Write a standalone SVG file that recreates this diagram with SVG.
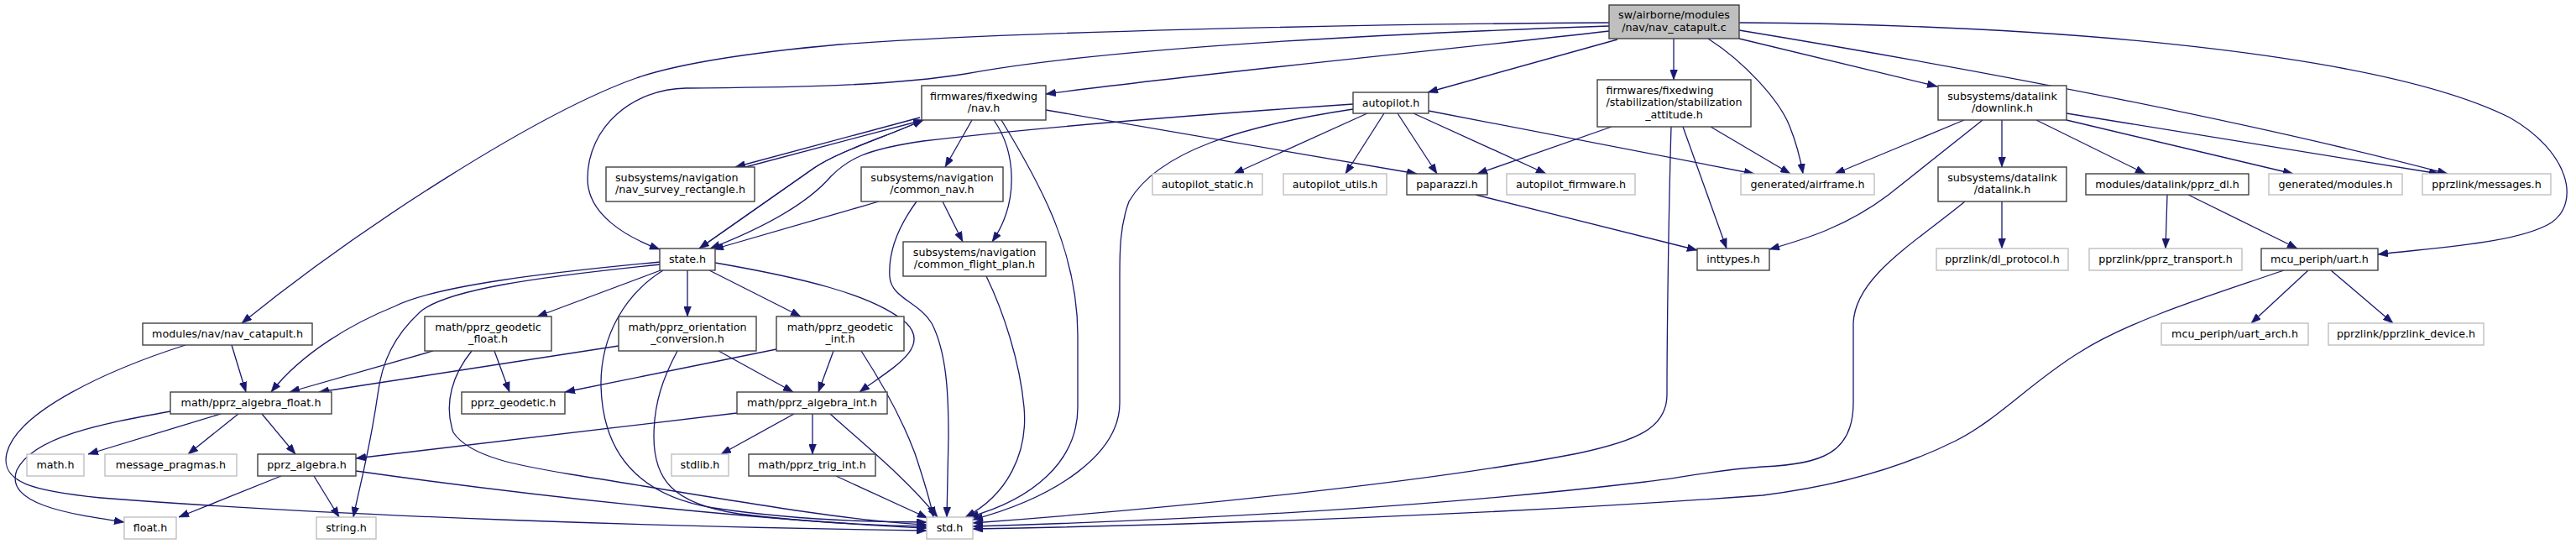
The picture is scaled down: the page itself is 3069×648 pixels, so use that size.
<svg xmlns="http://www.w3.org/2000/svg" width="3069" height="648" viewBox="0 0 3069 648">
<style>
.bg{fill:#ffffff}
.n rect{fill:#ffffff;stroke:#404040;stroke-width:1.4}
.u rect{fill:#ffffff;stroke:#bfbfbf;stroke-width:1.4}
.r rect{fill:#bfbfbf;stroke:#404040;stroke-width:1.4}
text{font-family:"DejaVu Sans","Liberation Sans",sans-serif;font-size:12.7px;fill:#000000;text-anchor:middle}
text.l{text-anchor:start}
#edges path{fill:none;stroke:#191970;stroke-width:1.3;marker-end:url(#ah)}
</style>
<defs>
<marker id="ah" markerUnits="userSpaceOnUse" markerWidth="12" markerHeight="9" refX="12" refY="4.5" orient="auto" viewBox="0 0 12 9">
<path d="M0,0 L12,4.5 L0,9 z" fill="#191970" stroke="#191970" stroke-width="0.5"/>
</marker>
</defs>
<rect class="bg" x="0" y="0" width="3069" height="648"/>
<g id="edges">
<path d="M1917,27 C1600,29 1200,38 1000,53 C900,62 810,75 758,93 C640,135 430,270 288,385"/>
<path d="M1917,31 C1600,42 1300,60 1150,88 C1050,104 920,104 817,105 C755,106 700,150 700,213 C700,255 745,282 786,297"/>
<path d="M1917,37 C1700,62 1450,85 1246,112"/>
<path d="M1927,47 L1701,110"/>
<path d="M1994,46 L1994,95"/>
<path d="M2035,46 C2080,75 2120,120 2132,150 C2142,175 2146,195 2148,207"/>
<path d="M2072,46 L2308,103"/>
<path d="M2072,36 C2400,90 2700,150 2916,207"/>
<path d="M2072,27 C2500,30 2850,70 2990,140 C3060,180 3075,240 3040,265 C3000,290 2900,295 2833,303"/>
<path d="M1096,140 L876,199"/>
<path d="M888,199 L1100,143"/>
<path d="M1100,143 C1050,165 1000,180 970,200 C920,235 870,270 833,296"/>
<path d="M833,296 C870,270 920,235 970,200 C1000,180 1050,165 1100,143"/>
<path d="M1612,124 C1450,135 1250,150 1100,168 C1030,178 1010,190 990,210 C960,245 900,275 846,296"/>
<path d="M1047,240 L850,297"/>
<path d="M1158,143 L1126,199"/>
<path d="M1184,143 C1210,180 1215,240 1182,288"/>
<path d="M1193,143 C1240,220 1284,300 1284,400 L1284,485 C1284,550 1230,595 1154,616"/>
<path d="M1123,240 L1147,288"/>
<path d="M1092,240 C1070,270 1058,300 1060,330 C1062,355 1095,360 1110,385 C1128,420 1130,470 1130,520 L1128,616"/>
<path d="M1175,329 C1195,370 1215,430 1220,485 C1225,540 1200,590 1150,616"/>
<path d="M1612,130 C1480,150 1380,180 1345,240 C1334,270 1334,300 1334,330 L1334,480 C1334,540 1260,592 1159,619"/>
<path d="M1629,135 L1470,207"/>
<path d="M1649,135 L1603,207"/>
<path d="M1665,135 L1712,207"/>
<path d="M1684,135 L1842,207"/>
<path d="M1702,132 L2090,207"/>
<path d="M1246,131 L1688,207"/>
<path d="M1920,151 L1760,207"/>
<path d="M2005,151 L2057,296"/>
<path d="M2038,151 L2133,207"/>
<path d="M1991,151 C1988,250 1986,400 1986,470 C1986,510 1950,525 1880,540 C1700,575 1400,605 1159,623"/>
<path d="M1758,232 L2022,298"/>
<path d="M2340,143 L2186,207"/>
<path d="M2362,143 L2250,232 C2200,270 2150,285 2108,297"/>
<path d="M2385,143 L2385,199"/>
<path d="M2426,143 L2556,207"/>
<path d="M2462,143 L2732,207"/>
<path d="M2462,135 L2906,207"/>
<path d="M2385,240 L2385,296"/>
<path d="M2341,240 C2280,290 2210,330 2208,385 L2208,480 C2208,540 2170,553 2100,556 C2040,560 2000,570 1960,574 C1700,605 1400,620 1159,627"/>
<path d="M2582,232 L2580,296"/>
<path d="M2607,232 L2737,296"/>
<path d="M2750,322 L2682,385"/>
<path d="M2777,322 L2851,385"/>
<path d="M2721,322 C2640,350 2540,380 2477,420 C2420,455 2380,500 2330,525 C2260,560 2180,580 2100,590 C1800,612 1450,625 1159,630"/>
<path d="M787,312 C650,325 520,340 470,365 C420,385 360,420 323,467"/>
<path d="M787,315 C640,330 530,345 500,372 C470,400 455,430 450,470 C440,540 428,580 421,616"/>
<path d="M787,322 L640,377"/>
<path d="M819,322 L819,377"/>
<path d="M845,322 L954,377"/>
<path d="M790,322 C745,350 715,400 716,460 C718,540 760,590 850,605 C950,620 1050,622 1104,622"/>
<path d="M852,313 C950,330 1040,350 1080,385 C1110,415 1060,440 1024,467"/>
<path d="M276,411 L293,467"/>
<path d="M221,411 C130,440 20,490 8,540 C0,575 40,585 120,593 C400,615 800,628 1104,632"/>
<path d="M516,418 L345,467"/>
<path d="M589,418 L607,467"/>
<path d="M562,418 C540,445 528,480 540,515 C560,545 620,555 680,565 C850,592 1000,620 1104,625"/>
<path d="M737,412 L380,467"/>
<path d="M856,418 L945,467"/>
<path d="M807,418 C790,450 779,480 779,520 C779,570 800,600 880,612 C960,622 1050,626 1104,627"/>
<path d="M925,416 L673,467"/>
<path d="M993,418 L975,467"/>
<path d="M1026,418 C1050,455 1075,500 1090,540 C1100,570 1108,595 1112,616"/>
<path d="M263,493 L105,541"/>
<path d="M284,493 L224,541"/>
<path d="M312,493 L352,541"/>
<path d="M203,490 C120,505 40,520 20,560 C5,600 80,612 148,622"/>
<path d="M878,492 L424,546"/>
<path d="M946,493 L859,541"/>
<path d="M968,493 L968,541"/>
<path d="M989,493 C1030,530 1080,570 1117,616"/>
<path d="M335,567 L213,616"/>
<path d="M374,567 L404,616"/>
<path d="M424,561 C700,600 950,622 1104,629"/>
<path d="M996,567 L1105,617"/>
</g>
<g id="node-root" class="r"><rect x="1917" y="6" width="155" height="40"/><text x="1994.5" y="22">sw/airborne/modules</text><text x="1994.5" y="36.5">/nav/nav_catapult.c</text></g>
<g id="node-nav" class="n"><rect x="1098" y="102" width="148" height="41"/><text x="1172" y="118.5">firmwares/fixedwing</text><text x="1172" y="133">/nav.h</text></g>
<g id="node-autopilot" class="n"><rect x="1612" y="110" width="90" height="25"/><text x="1657" y="127">autopilot.h</text></g>
<g id="node-stab" class="n"><rect x="1903" y="95" width="183" height="56"/><text class="l" x="1913.5" y="111.5">firmwares/fixedwing</text><text x="1994.5" y="126">/stabilization/stabilization</text><text x="1994.5" y="140.5">_attitude.h</text></g>
<g id="node-downlink" class="n"><rect x="2309" y="102" width="153" height="41"/><text x="2385.5" y="118.5">subsystems/datalink</text><text x="2385.5" y="133">/downlink.h</text></g>
<g id="node-navsurvey" class="n"><rect x="722" y="199" width="177" height="41"/><text class="l" x="733" y="215.5">subsystems/navigation</text><text x="810.5" y="230">/nav_survey_rectangle.h</text></g>
<g id="node-commonnav" class="n"><rect x="1026" y="199" width="169" height="41"/><text x="1110.5" y="215.5">subsystems/navigation</text><text x="1110.5" y="230">/common_nav.h</text></g>
<g id="node-datalink" class="n"><rect x="2309" y="199" width="153" height="41"/><text x="2385.5" y="215.5">subsystems/datalink</text><text x="2385.5" y="230">/datalink.h</text></g>
<g id="node-flightplan" class="n"><rect x="1076" y="288" width="170" height="41"/><text x="1161" y="304.5">subsystems/navigation</text><text x="1161" y="319">/common_flight_plan.h</text></g>
<g id="node-apstatic" class="u"><rect x="1373" y="207" width="131" height="25"/><text x="1438.5" y="224">autopilot_static.h</text></g>
<g id="node-aputils" class="u"><rect x="1529" y="207" width="123" height="25"/><text x="1590.5" y="224">autopilot_utils.h</text></g>
<g id="node-paparazzi" class="n"><rect x="1676" y="207" width="96" height="25"/><text x="1724" y="224">paparazzi.h</text></g>
<g id="node-apfirmware" class="u"><rect x="1795" y="207" width="153" height="25"/><text x="1871.5" y="224">autopilot_firmware.h</text></g>
<g id="node-airframe" class="u"><rect x="2074" y="207" width="159" height="25"/><text x="2153.5" y="224">generated/airframe.h</text></g>
<g id="node-pprzdl" class="n"><rect x="2485" y="207" width="194" height="25"/><text x="2582" y="224">modules/datalink/pprz_dl.h</text></g>
<g id="node-modules" class="u"><rect x="2703" y="207" width="159" height="25"/><text x="2782.5" y="224">generated/modules.h</text></g>
<g id="node-messages" class="u"><rect x="2886" y="207" width="153" height="25"/><text x="2962.5" y="224">pprzlink/messages.h</text></g>
<g id="node-state" class="n"><rect x="786" y="296" width="66" height="26"/><text x="819" y="313">state.h</text></g>
<g id="node-inttypes" class="n"><rect x="2022" y="296" width="86" height="26"/><text x="2065" y="313">inttypes.h</text></g>
<g id="node-dlprotocol" class="u"><rect x="2307" y="296" width="157" height="26"/><text x="2385.5" y="313">pprzlink/dl_protocol.h</text></g>
<g id="node-transport" class="u"><rect x="2489" y="296" width="182" height="26"/><text x="2580" y="313">pprzlink/pprz_transport.h</text></g>
<g id="node-uart" class="n"><rect x="2694" y="296" width="139" height="26"/><text x="2763.5" y="313">mcu_periph/uart.h</text></g>
<g id="node-navcatapulth" class="n"><rect x="170" y="385" width="202" height="26"/><text x="271" y="402">modules/nav/nav_catapult.h</text></g>
<g id="node-geofloat" class="n"><rect x="506" y="377" width="151" height="41"/><text x="581.5" y="393.5">math/pprz_geodetic</text><text x="581.5" y="408">_float.h</text></g>
<g id="node-orient" class="n"><rect x="737" y="377" width="164" height="41"/><text x="819" y="393.5">math/pprz_orientation</text><text x="819" y="408">_conversion.h</text></g>
<g id="node-geoint" class="n"><rect x="925" y="377" width="152" height="41"/><text x="1001" y="393.5">math/pprz_geodetic</text><text x="1001" y="408">_int.h</text></g>
<g id="node-uartarch" class="u"><rect x="2575" y="385" width="175" height="26"/><text x="2662.5" y="402">mcu_periph/uart_arch.h</text></g>
<g id="node-device" class="u"><rect x="2774" y="385" width="185" height="26"/><text x="2866.5" y="402">pprzlink/pprzlink_device.h</text></g>
<g id="node-algfloat" class="n"><rect x="203" y="467" width="192" height="26"/><text x="299" y="484">math/pprz_algebra_float.h</text></g>
<g id="node-geodetic" class="n"><rect x="550" y="467" width="123" height="26"/><text x="611.5" y="484">pprz_geodetic.h</text></g>
<g id="node-algint" class="n"><rect x="878" y="467" width="179" height="26"/><text x="967.5" y="484">math/pprz_algebra_int.h</text></g>
<g id="node-math" class="u"><rect x="32" y="541" width="68" height="26"/><text x="66" y="558">math.h</text></g>
<g id="node-pragmas" class="u"><rect x="125" y="541" width="157" height="26"/><text x="203.5" y="558">message_pragmas.h</text></g>
<g id="node-algebra" class="n"><rect x="307" y="541" width="117" height="26"/><text x="365.5" y="558">pprz_algebra.h</text></g>
<g id="node-stdlib" class="u"><rect x="800" y="541" width="68" height="26"/><text x="834" y="558">stdlib.h</text></g>
<g id="node-trigint" class="n"><rect x="892" y="541" width="151" height="26"/><text x="967.5" y="558">math/pprz_trig_int.h</text></g>
<g id="node-float" class="u"><rect x="148" y="616" width="62" height="26"/><text x="179" y="633">float.h</text></g>
<g id="node-string" class="u"><rect x="377" y="616" width="71" height="26"/><text x="412.5" y="633">string.h</text></g>
<g id="node-std" class="u"><rect x="1104" y="616" width="55" height="26"/><text x="1131.5" y="633">std.h</text></g>
</svg>
